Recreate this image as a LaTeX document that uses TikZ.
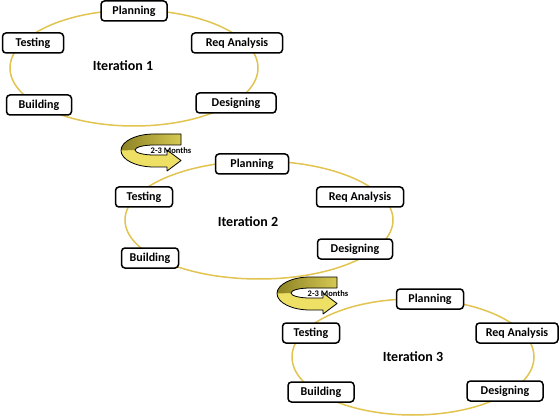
\documentclass[tikz,border=0pt]{standalone}
\usepackage{fontspec}
\setmainfont{Carlito}
\definecolor{ringc}{RGB}{226,196,80}
\definecolor{arrowfront}{RGB}{238,224,100}
\definecolor{arrowback}{RGB}{140,130,35}
\tikzset{
  stage/.style={draw=black, line width=1.5pt, rounded corners=3.5pt, fill=white,
    minimum height=20pt, inner xsep=6pt, inner ysep=0pt,
    font=\bfseries\fontsize{12}{14}\selectfont},
  ring/.style={draw=ringc, line width=1.5pt},
  itlabel/.style={font=\bfseries\fontsize{14}{16}\selectfont},
  durlabel/.style={font=\bfseries\fontsize{8.5}{10}\selectfont, inner sep=0pt},
  pics/uturn/.style={code={
    \fill[arrowfront] (60,0) -- (33,0) arc[start angle=270,end angle=90,x radius=33,y radius=16.5]
      -- (46,33) -- (46,37) -- (60,26.5) -- (46,16) -- (46,21) -- (33,21)
      arc[start angle=90,end angle=270,x radius=19,y radius=5] -- (60,11) -- cycle;
    \shade[left color=arrowback, right color=arrowfront!75!arrowback]
      (60,0) -- (33,0) arc[start angle=270,end angle=180,x radius=33,y radius=16.5]
      -- (14,16) arc[start angle=180,end angle=270,x radius=19,y radius=5] -- (60,11) -- cycle;
    \draw[black, line width=0.8pt, line join=round] (60,0) -- (33,0) arc[start angle=270,end angle=90,x radius=33,y radius=16.5]
      -- (46,33) -- (46,37) -- (60,26.5) -- (46,16) -- (46,21) -- (33,21)
      arc[start angle=90,end angle=270,x radius=19,y radius=5] -- (60,11) -- cycle;
  }}
}
\begin{document}
\begin{tikzpicture}[x=1pt, y=-1pt]
\useasboundingbox[fill=white] (0,0) rectangle (560,417);

% Iteration 1
\draw[ring] (134,68) ellipse [x radius=124, y radius=58];
\node[stage, minimum width=66pt] (p1) at (134,11) {Planning};
\node[stage, minimum width=61pt] (t1) at (33,43) {Testing};
\node[stage, minimum width=91pt] (r1) at (237,43) {Req Analysis};
\node[stage, minimum width=65pt] (b1) at (39,105) {Building};
\node[stage, minimum width=80pt] (d1) at (236,103) {Designing};
\node[itlabel] (i1) at (123,66) {Iteration 1};

% Iteration 2
\draw[ring] (259,220) ellipse [x radius=134, y radius=59];
\node[stage, minimum width=73pt] (p2) at (252,164) {Planning};
\node[stage, minimum width=57pt] (t2) at (144,197) {Testing};
\node[stage, minimum width=87pt] (r2) at (360,197) {Req Analysis};
\node[stage, minimum width=57pt] (b2) at (150,258) {Building};
\node[stage, minimum width=75pt] (d2) at (355,249) {Designing};
\node[itlabel] (i2) at (248,222) {Iteration 2};

% Iteration 3
\draw[ring] (413,357) ellipse [x radius=121, y radius=58];
\node[stage, minimum width=67pt] (p3) at (430,299) {Planning};
\node[stage, minimum width=57pt] (t3) at (311,333) {Testing};
\node[stage, minimum width=82pt] (r3) at (517,333) {Req Analysis};
\node[stage, minimum width=66pt] (b3) at (321,392) {Building};
\node[stage, minimum width=76pt] (d3) at (505,391) {Designing};
\node[itlabel] (i3) at (413,357) {Iteration 3};

% Transition arrows
\pic at (121,134) {uturn};
\node[durlabel] (m1) at (171,151) {2-3 Months};
\pic at (277,277) {uturn};
\node[durlabel] (m2) at (328,294) {2-3 Months};
\end{tikzpicture}
\end{document}
